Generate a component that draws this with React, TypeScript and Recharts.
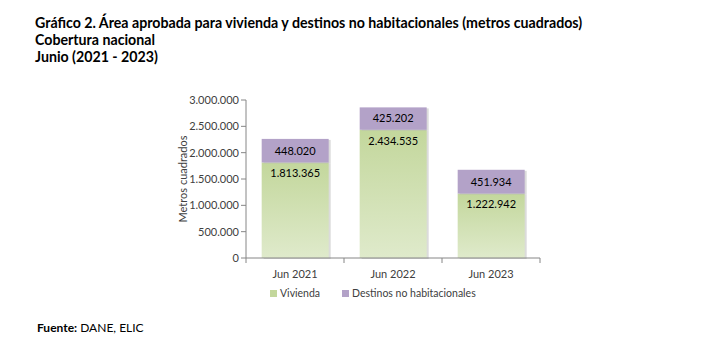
import React from 'react';
import { BarChart, Bar, XAxis, YAxis, LabelList } from 'recharts';

const categories = ['Jun 2021', 'Jun 2022', 'Jun 2023'];
const vivienda = [1813365, 2434535, 1222942];
const noHabitacionales = [448020, 425202, 451934];
const yTicks = [0, 500000, 1000000, 1500000, 2000000, 2500000, 3000000];

const data = categories.map((c, i) => ({
    name: c,
    vivienda: vivienda[i],
    destinos: noHabitacionales[i],
}));

const FONT = 'Lato, "Open Sans", sans-serif';
const TEXT = '#404040';
const AXIS = '#868686';

const fmt = (v: number) => String(v).replace(/\B(?=(\d{3})+(?!\d))/g, '.');

const PLOT_LEFT = 246;
const PLOT_RIGHT = 540;
const BAND = (PLOT_RIGHT - PLOT_LEFT) / categories.length;

const ShadowBar = (props: any) => {
    const { x, y, width, height, fill } = props;
    if (!height || height <= 0) return null;
    return (
        <g>
            <rect x={x + 2} y={y + 1} width={width} height={height} fill="#b8b8b8" opacity={0.5} />
            <rect x={x} y={y} width={width} height={height} fill={fill} />
        </g>
    );
};

const XTick = (props: any) => {
    const { x, y, payload, index } = props;
    const left = x - BAND / 2;
    return (
        <g>
            <line x1={left} y1={y - 8} x2={left} y2={y - 3} stroke={AXIS} />
            {index === categories.length - 1 && (
                <line x1={left + BAND} y1={y - 8} x2={left + BAND} y2={y - 3} stroke={AXIS} />
            )}
            <text x={x} y={y + 12} textAnchor="middle" fontSize={11} fill={TEXT} fontFamily={FONT}>
                {payload.value}
            </text>
        </g>
    );
};

export default function App() {
    return (
        <div style={{ position: 'absolute', left: 0, top: 0, width: 707, height: 354, background: '#fff', fontFamily: FONT, color: '#000' }}>
            <div style={{ position: 'absolute', left: 35, top: 14, fontWeight: 700, fontSize: 14.2, lineHeight: '17px' }}>
                <div>Gráfico 2. Área aprobada para vivienda y destinos no habitacionales (metros cuadrados)</div>
                <div>Cobertura nacional</div>
                <div>Junio (2021 - 2023)</div>
            </div>

            <div style={{ position: 'absolute', left: 0, top: 0 }}>
                <BarChart
                    width={707}
                    height={354}
                    data={data}
                    margin={{ top: 100, right: 707 - PLOT_RIGHT, bottom: 66, left: PLOT_LEFT - 60 }}
                    barCategoryGap="16%"
                >
                    <defs>
                        <linearGradient id="greenGrad" x1="0" y1="0" x2="0" y2="1">
                            <stop offset="0%" stopColor="#c3d79c" />
                            <stop offset="100%" stopColor="#dfeacb" />
                        </linearGradient>
                    </defs>
                    <XAxis
                        dataKey="name"
                        height={30}
                        axisLine={{ stroke: AXIS }}
                        tickLine={false}
                        tick={<XTick />}
                        interval={0}
                    />
                    <YAxis
                        width={60}
                        domain={[0, 3000000]}
                        ticks={yTicks}
                        tickFormatter={fmt}
                        axisLine={{ stroke: AXIS }}
                        tickLine={{ stroke: AXIS }}
                        tickSize={5}
                        tick={{ fontSize: 11, fill: TEXT, fontFamily: FONT }}
                        label={{
                            value: 'Metros cuadrados',
                            angle: -90,
                            position: 'insideLeft',
                            offset: -3,
                            style: { fontSize: 11, fill: TEXT, fontFamily: FONT, textAnchor: 'middle' },
                        }}
                    />
                    <Bar dataKey="vivienda" stackId="a" fill="url(#greenGrad)" shape={<ShadowBar />} isAnimationActive={false}>
                        <LabelList dataKey="vivienda" position="insideTop" offset={7} formatter={fmt} style={{ fontSize: 11, fill: '#000', fontFamily: FONT }} />
                    </Bar>
                    <Bar dataKey="destinos" stackId="a" fill="#b3a2c8" shape={<ShadowBar />} isAnimationActive={false}>
                        <LabelList dataKey="destinos" position="center" formatter={fmt} style={{ fontSize: 11, fill: '#000', fontFamily: FONT }} />
                    </Bar>
                </BarChart>
            </div>

            <div style={{ position: 'absolute', left: 270, top: 287, fontSize: 10.5, color: TEXT, display: 'flex', alignItems: 'center' }}>
                <span style={{ display: 'inline-block', width: 7, height: 7, background: '#c3d79c', marginRight: 3 }} />
                <span>Vivienda</span>
                <span style={{ display: 'inline-block', width: 7, height: 7, background: '#b3a2c8', marginLeft: 22, marginRight: 3 }} />
                <span>Destinos no habitacionales</span>
            </div>

            <div style={{ position: 'absolute', left: 37, top: 320, fontSize: 12 }}>
                <b>Fuente:</b> DANE, ELIC
            </div>
        </div>
    );
}
